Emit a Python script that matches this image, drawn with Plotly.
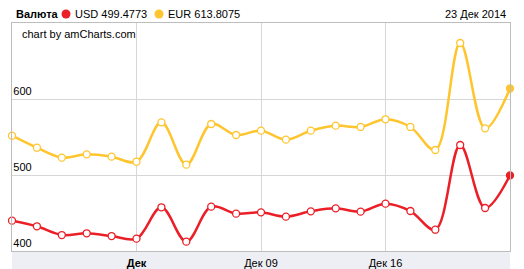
import plotly.graph_objects as go

idx = list(range(21))
usd = [439.9, 432.5, 421.0, 423.3, 419.7, 416.2, 457.5, 412.3, 458.3, 449.1, 450.9,
       445.2, 452.2, 456.1, 451.8, 462.3, 452.6, 428.0, 539.5, 456.6, 499.4773]
eur = [551.7, 535.9, 522.8, 527.2, 524.1, 517.5, 569.3, 513.6, 567.1, 552.6, 558.3,
       546.5, 558.3, 564.9, 563.2, 573.3, 563.2, 532.9, 673.7, 561.4, 613.8075]
tick_pos = [5, 10, 15]
tick_text = ["<b>Дек</b>", "Дек 09", "Дек 16"]
y_ticks = [400, 500, 600]
legend_title = "Валюта"
date_label = "23 Дек 2014"
credit = "chart by amCharts.com"

RED = "#ea1f27"
YEL = "#fec52e"
FONT = "Liberation Sans, Arial, sans-serif"

fig = go.Figure()
for vals, col in [(eur, YEL), (usd, RED)]:
    n = len(vals)
    fig.add_trace(go.Scatter(
        x=idx, y=vals, mode="lines+markers",
        line=dict(color=col, width=2.5, shape="spline", smoothing=1.0),
        marker=dict(size=7, color=["white"] * (n - 1) + [col],
                    line=dict(color=col, width=1.3)),
        cliponaxis=False, showlegend=False, hoverinfo="skip"))

W, H = 524, 269
L, R, T, B = 12, 14, 23, 18

fig.update_layout(
    width=W, height=H, margin=dict(l=L, r=R, t=T, b=B, autoexpand=False),
    paper_bgcolor="white", plot_bgcolor="white",
    font=dict(family=FONT, size=11, color="#000"),
    xaxis=dict(range=[0, 20], tickvals=tick_pos, ticktext=tick_text,
               showgrid=True, gridcolor="#d6d6d6", gridwidth=1,
               showline=True, linecolor="#bdbdbd", linewidth=1, mirror=True,
               zeroline=False, ticks="", ticklabelstandoff=2, automargin=False,
               tickfont=dict(size=11, color="#000")),
    yaxis=dict(range=[400, 700], tickvals=y_ticks,
               showgrid=True, gridcolor="#d6d6d6", gridwidth=1,
               showline=True, linecolor="#bdbdbd", linewidth=1, mirror=True,
               zeroline=False, ticks="", ticklabelposition="inside top", automargin=False,
               tickfont=dict(size=11, color="#000")),
)

# grey band under the plot (category axis area)
fig.add_shape(type="rect", xref="paper", yref="paper",
              x0=0, x1=1, y0=-B / (H - T - B), y1=0,
              fillcolor="#eeeff4", line=dict(width=0), layer="below")

def px_x(p):
    return (p - L) / (W - L - R)

def px_y(p):
    return (H - B - p) / (H - T - B)

ann = [
    dict(x=px_x(14), y=px_y(14), text="<b>" + legend_title + "</b>", xanchor="left"),
    dict(x=px_x(73), y=px_y(14), text="USD %.4f" % usd[-1], xanchor="left"),
    dict(x=px_x(166), y=px_y(14), text="EUR %.4f" % eur[-1], xanchor="left"),
    dict(x=px_x(508), y=px_y(14), text=date_label, xanchor="right"),
    dict(x=px_x(20), y=px_y(34), text=credit, xanchor="left"),
]
for a in ann:
    fig.add_annotation(xref="paper", yref="paper", yanchor="middle", showarrow=False,
                       font=dict(family=FONT, size=11, color="#000"), **a)

for cx, col in [(66, RED), (159, YEL)]:
    fig.add_shape(type="circle", xref="paper", yref="paper",
                  x0=px_x(cx - 4.5), x1=px_x(cx + 4.5), y0=px_y(14 + 4.5), y1=px_y(14 - 4.5),
                  fillcolor=col, line=dict(width=0))

fig.write_html("out.html")
